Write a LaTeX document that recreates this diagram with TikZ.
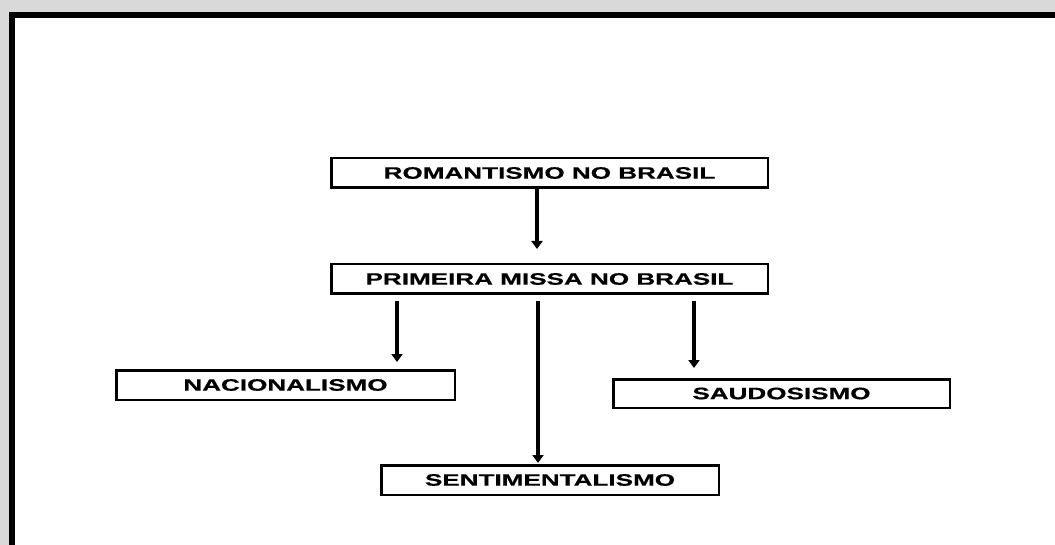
\documentclass[tikz,border=0pt]{standalone}
\usepackage{fontspec}
\newfontfamily\boxfont[FakeStretch=1.58, FakeBold=0.6]{Liberation Sans}
\usetikzlibrary{arrows.meta,calc}
\definecolor{pagegray}{HTML}{D9D9D9}
\tikzset{
  topic/.style={shape=rectangle, draw=black, line width=2.5pt, fill=white,
    inner sep=0pt, minimum height=29.5pt,
    font=\boxfont\bfseries\fontsize{16.5}{19}\selectfont},
  link/.style={black, line width=3.5pt, -{Triangle[width=11pt,length=8pt]}},
}
\begin{document}
\begin{tikzpicture}[x=1pt, y=-1pt]
      \useasboundingbox (0,0) rectangle (1055,545);
      \clip (0,0) rectangle (1055,545);
      \fill[pagegray] (0,0) rectangle (1055,545);
      \draw[line width=6pt, fill=white] (12,15) rectangle (1070,560);

      \node[topic, minimum width=436.5pt] at (549.5,173) (rom) {ROMANTISMO NO BRASIL};
      \node[topic, minimum width=436.5pt] at (549.5,279) (prim) {PRIMEIRA MISSA NO BRASIL};
      \node[topic, minimum width=338.5pt] at (285.5,385) (nac) {NACIONALISMO};
      \node[topic, minimum width=336.5pt, minimum height=28.5pt] at (781.5,393.5) (saud) {SAUDOSISMO};
      \node[topic, minimum width=337.5pt] at (550,480) (sent) {SENTIMENTALISMO};

      % --------------------------------------------------------------------------
      \coordinate (romtip) at (537,249);
      \draw[link] (rom.south -| romtip) -- (romtip);

      \coordinate (nactip) at (397,362);
      \draw[link] ($(prim.south -| nactip)+(0,6)$) -- (nactip);

      \coordinate (senttip) at (538,463);
      \draw[link] ($(prim.south -| senttip)+(0,6)$) -- (senttip);

      \coordinate (saudtip) at (694,368);
      \draw[link] ($(prim.south -| saudtip)+(0,6)$) -- (saudtip);
    \end{tikzpicture}
\end{document}
